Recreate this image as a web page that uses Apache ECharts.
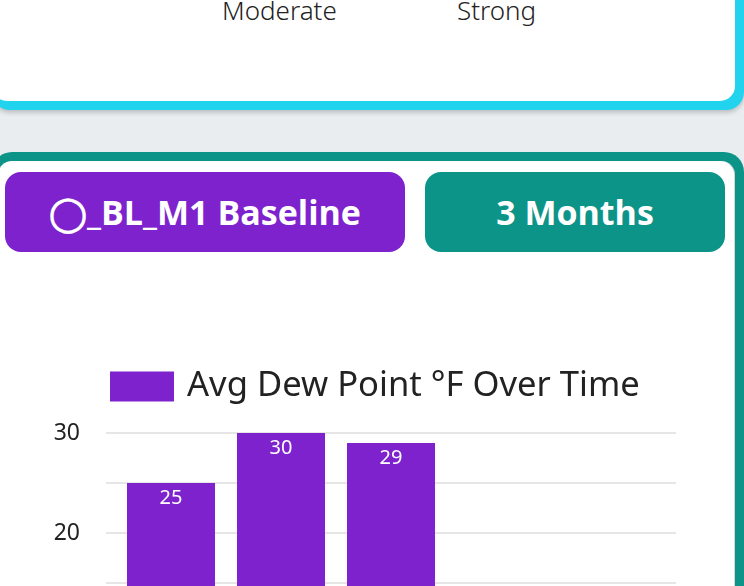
<!DOCTYPE html>
<html>
<head>
<meta charset="utf-8">
<script src="https://cdn.jsdelivr.net/npm/echarts@6/dist/echarts.min.js"></script>
<style>
  html, body { margin:0; padding:0; width:744px; height:586px; overflow:hidden; background:#e9edf0; font-family:"Noto Sans", sans-serif; }
  .abs { position:absolute; }
  .topOuter { left:-8px; top:-200px; width:752px; height:310px; border-radius:18px; background:#22d3ee; box-shadow:0 3px 4px rgba(0,0,0,0.18); }
  .topInner { left:-8px; top:-200px; width:743px; height:301px; border-radius:15px; background:#fff; }
  .level { top:-5px; font-size:26px; font-weight:300; color:#222; line-height:30px; }
  .botOuter { left:-8px; top:152px; width:752px; height:1000px; border-radius:20px; background:#0d9488; }
  .botInner { left:-2px; top:161px; width:736px; height:1000px; border-radius:14px; background:#fff; border-right:1px solid #d6d6d6; }
  .btn { top:172px; height:80px; border-radius:16px; color:#fff; font-family:"Open Sans", sans-serif; font-weight:700; font-size:34px; display:flex; align-items:center; justify-content:center; }
  .btnSite { left:5px; width:400px; background:#7e22ce; }
  .btnRange { left:425px; width:300px; background:#0d9488; }
  #chart { left:0; top:265px; width:736px; height:600px; }
</style>
</head>
<body>
<div class="abs topOuter"></div>
<div class="abs topInner"></div>
<div class="abs level" style="left:222px">Moderate</div>
<div class="abs level" style="left:457px">Strong</div>
<div class="abs botOuter"></div>
<div class="abs botInner"></div>
<div class="abs btn btnSite" id="siteBtn"></div>
<div class="abs btn btnRange" id="rangeBtn"></div>
<div class="abs" id="chart"></div>
<script>
const siteName = "◯_BL_M1 Baseline";
const rangeName = "3 Months";
const seriesName = "Avg Dew Point °F Over Time";
const categories = ["Month 1", "Month 2", "Month 3", "", ""];
const dewPoint = [25, 30, 29, null, null];
const yTicks = [0, 10, 20, 30];

const PURPLE = "#7e22ce";

function el(id){ return document.getElementById(id); }

el("siteBtn").textContent = siteName;
el("rangeBtn").textContent = rangeName;

const chart = echarts.init(el("chart"), null, {renderer:"canvas"});
const font = "Noto Sans";

chart.setOption({
  animation: false,
  legend: {
    data: [seriesName],
    left: 110, top: 104,
    padding: 0,
    itemWidth: 64, itemHeight: 30,
    icon: "rect",
    textStyle: { fontFamily: font, fontSize: 34.6, color: "#222", padding: [0,0,0,8] }
  },
  grid: [
    { left: 106, width: 570, top: 168, height: 300 },
    { left: 116, width: 550, top: 168, height: 300 }
  ],
  xAxis: [
    { gridIndex: 0, type: "category", data: categories, show: false },
    { gridIndex: 1, type: "category", data: categories,
      axisLine: {show:false}, axisTick: {show:false},
      axisLabel: { fontFamily: font, fontSize: 20, color: "#222" } }
  ],
  yAxis: [
    { gridIndex: 0, type: "value", min: 0, max: 30, interval: 5,
      axisLine: {show:false}, axisTick: {show:false},
      splitLine: { lineStyle: { color: "#e6e6e6", width: 2 } },
      axisLabel: { margin: 26, fontFamily: font, fontSize: 23, color: "#222",
        formatter: v => yTicks.includes(v) ? String(v) : "" } },
    { gridIndex: 1, type: "value", min: 0, max: 30, interval: 5, show: false, splitLine: {show:false} }
  ],
  series: [{
    name: seriesName,
    type: "bar",
    xAxisIndex: 1, yAxisIndex: 1,
    data: dewPoint,
    barWidth: 88,
    itemStyle: { color: PURPLE },
    label: { show: true, position: "insideTop", distance: 5, color: "#fff", fontFamily: font, fontSize: 20 }
  }]
});
</script>
</body>
</html>
